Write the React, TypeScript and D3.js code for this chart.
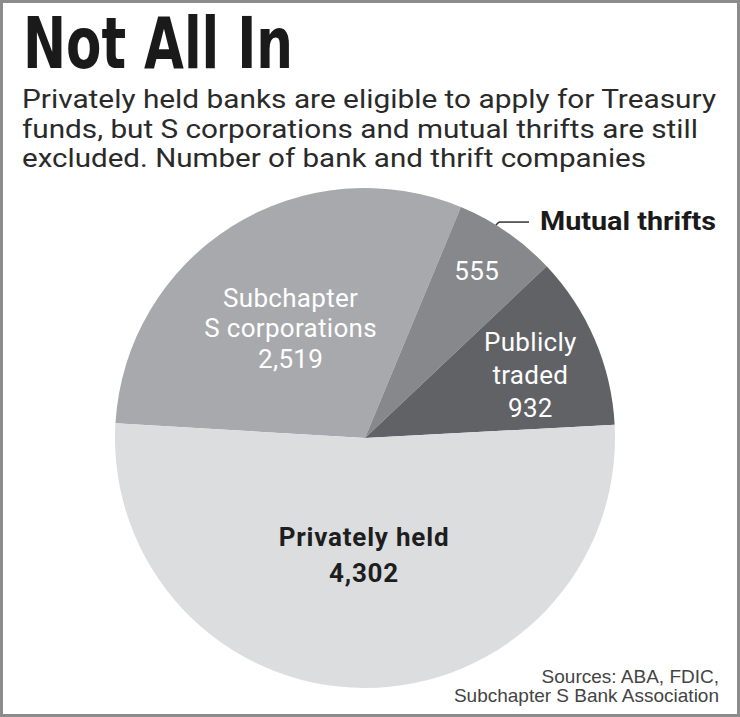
import React from "react";
import * as d3 from "d3";

const categories = ["Subchapter S corporations", "Mutual thrifts", "Publicly traded", "Privately held"];
const values = [2519, 555, 932, 4302];
const insideLabels: string[][] = [["Subchapter", "S corporations"], [], ["Publicly", "traded"], ["Privately held"]];
const colors = ["#a8a9ac", "#87888b", "#616266", "#dcdddf"];
const labelColors = ["#ffffff", "#ffffff", "#ffffff", "#1e1e1e"];
const titleText = "Not All In";
const subtitleLines = [
  "Privately held banks are eligible to apply for Treasury",
  "funds, but S corporations and mutual thrifts are still",
  "excluded. Number of bank and thrift companies",
];
const sourceLines = ["Sources: ABA, FDIC,", "Subchapter S Bank Association"];

// layout
const W = 740, H = 717;
const cx = 365, cy = 438, R = 250;
const startDeg = -86.6;
const labelRadius = [133, 201, 177, 117];
const labelAngleShift = [-2, -0.8, 2.3, 0.3];
const lineHeights = [30.5, 30, 33, 36];
const subtitleWidths = [694, 676, 624];
const fontFamily = "Roboto, 'Liberation Sans', sans-serif";

export default function App() {
  const fmt = d3.format(",");
  const toRad = (d: number) => (d * Math.PI) / 180;
  const pie = d3
    .pie<number>()
    .sort(null)
    .value((d) => d)
    .startAngle(toRad(startDeg))
    .endAngle(toRad(startDeg) + 2 * Math.PI);
  const arcs = pie(values);
  const arcGen = d3.arc<d3.PieArcDatum<number>>().innerRadius(0).outerRadius(R);
  const cap = 19;

  const mutualIdx = 1;
  const leaderAngle = toRad(31.6);
  const lx0 = R * Math.sin(leaderAngle);
  const ly0 = -R * Math.cos(leaderAngle);

  return (
    <svg width={W} height={H} style={{ position: "absolute", left: 0, top: 0, background: "#fff" }}>
      <rect x={1.5} y={1.5} width={W - 3} height={H - 3} fill="#fff" stroke="#8c8c8c" strokeWidth={3} />
      <text
        x={23}
        y={68}
        fontFamily="'Liberation Sans Narrow', 'DejaVu Sans Condensed', sans-serif"
        fontWeight={700}
        fontSize={71}
        fill="#1a1a1a"
        textLength={270}
        lengthAdjust="spacingAndGlyphs"
      >
        {titleText}
      </text>
      {subtitleLines.map((t, i) => (
        <text
          key={i}
          x={22}
          y={108 + i * 29.5}
          fontFamily={fontFamily}
          fontSize={26}
          fill="#2a2a2a"
          textLength={subtitleWidths[i]}
          lengthAdjust="spacingAndGlyphs"
        >
          {t}
        </text>
      ))}
      <g transform={`translate(${cx},${cy})`}>
        {arcs.map((a, i) => (
          <path key={categories[i]} d={arcGen(a) || ""} fill={colors[i]} />
        ))}
        {arcs.map((a, i) => {
          const mid = (a.startAngle + a.endAngle) / 2 + toRad(labelAngleShift[i]);
          const px = labelRadius[i] * Math.sin(mid);
          const py = -labelRadius[i] * Math.cos(mid);
          const lines = [...insideLabels[i], fmt(values[i])];
          const lh = lineHeights[i];
          const y0 = py - ((lines.length - 1) * lh) / 2 + cap / 2;
          return (
            <text
              key={"l" + i}
              textAnchor="middle"
              fontFamily={fontFamily}
              fontSize={26}
              fontWeight={i === 3 ? 700 : 400}
              letterSpacing={i === 3 ? 0.8 : 0.3}
              fill={labelColors[i]}
            >
              {lines.map((ln, j) => (
                <tspan key={j} x={px} y={y0 + j * lh}>
                  {ln}
                </tspan>
              ))}
            </text>
          );
        })}
        <line x1={lx0} y1={ly0} x2={lx0 + 3} y2={ly0 - 3} stroke="#333" strokeWidth={1.5} />
        <line x1={lx0 + 3} y1={ly0 - 3} x2={lx0 + 33} y2={ly0 - 3} stroke="#333" strokeWidth={1.5} />
        <text
          x={lx0 + 44}
          y={ly0 - 3 + 8}
          fontFamily={fontFamily}
          fontWeight={700}
          fontSize={25}
          fill="#1a1a1a"
          textLength={176}
          lengthAdjust="spacingAndGlyphs"
        >
          {categories[mutualIdx]}
        </text>
      </g>
      {sourceLines.map((t, i) => (
        <text
          key={"s" + i}
          x={719}
          y={683 + i * 19}
          textAnchor="end"
          fontFamily="'Liberation Sans', Arial, sans-serif"
          fontSize={19}
          fill="#444"
        >
          {t}
        </text>
      ))}
    </svg>
  );
}
